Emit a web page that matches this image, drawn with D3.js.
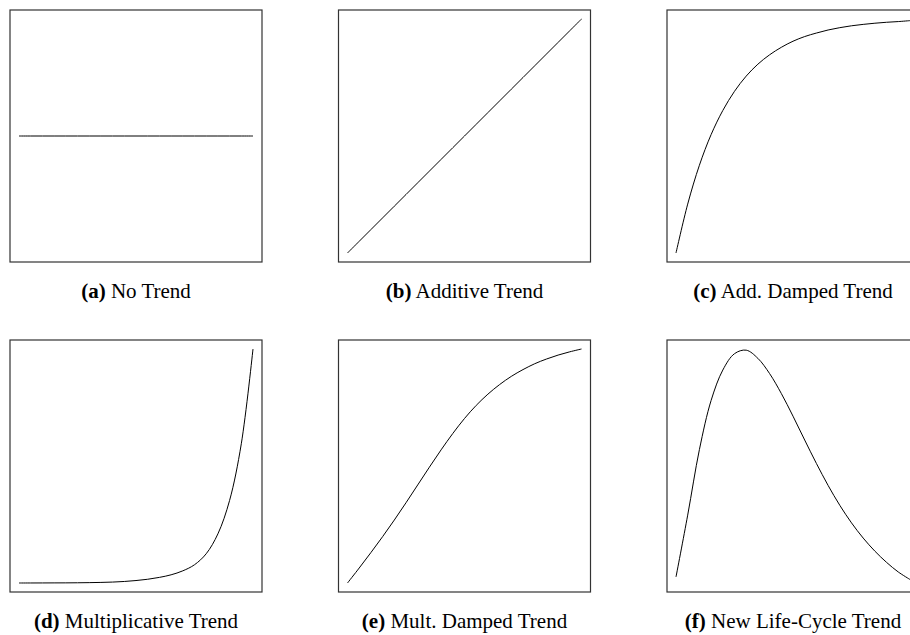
<!DOCTYPE html>
<html>
<head>
<meta charset="utf-8">
<script src="https://cdn.jsdelivr.net/npm/d3@7"></script>
<style>
  html, body { margin: 0; padding: 0; background: #fff; }
  svg { display: block; }
</style>
</head>
<body>
<svg id="chart" width="910" height="635"></svg>
<script>
// Sample positions along each panel's horizontal span (0 = start, 1 = end)
const steps = [0, 0.05, 0.1, 0.15, 0.2, 0.25, 0.3, 0.35, 0.4, 0.45, 0.5,
               0.55, 0.6, 0.65, 0.7, 0.75, 0.8, 0.85, 0.9, 0.95, 1];

// Trend levels (0 = lowest, 1 = highest) at each sample position
const noTrend = [0.5, 0.5, 0.5, 0.5, 0.5, 0.5, 0.5, 0.5, 0.5, 0.5, 0.5,
                 0.5, 0.5, 0.5, 0.5, 0.5, 0.5, 0.5, 0.5, 0.5, 0.5];
const additiveTrend = [0, 0.05, 0.1, 0.15, 0.2, 0.25, 0.3, 0.35, 0.4, 0.45, 0.5,
                       0.55, 0.6, 0.65, 0.7, 0.75, 0.8, 0.85, 0.9, 0.95, 1];
const addDampedTrend = [0, 0.209, 0.375, 0.506, 0.609, 0.691, 0.756, 0.807, 0.847, 0.879, 0.905,
                        0.925, 0.940, 0.953, 0.963, 0.971, 0.977, 0.982, 0.986, 0.989, 0.993];
const multiplicativeTrend = [0, 0.0001, 0.0002, 0.0004, 0.0006, 0.001, 0.0016, 0.0025, 0.004, 0.0065, 0.0105,
                             0.016, 0.024, 0.035, 0.052, 0.078, 0.125, 0.21, 0.353, 0.595, 1];
const multDampedTrend = [0, 0.064, 0.130, 0.198, 0.269, 0.343, 0.419, 0.495, 0.569, 0.639, 0.703,
                         0.759, 0.807, 0.848, 0.883, 0.912, 0.937, 0.957, 0.974, 0.988, 1];
const lifeCycleTrend = [0.026, 0.29, 0.57, 0.78, 0.91, 0.98, 0.995, 0.96, 0.895, 0.81, 0.713,
                        0.611, 0.511, 0.417, 0.332, 0.257, 0.192, 0.136, 0.088, 0.047, 0.015];

// Panel tags and captions
const tags = ["(a)", "(b)", "(c)", "(d)", "(e)", "(f)"];
const captions = ["No Trend", "Additive Trend", "Add. Damped Trend",
                  "Multiplicative Trend", "Mult. Damped Trend", "New Life-Cycle Trend"];
const series = [noTrend, additiveTrend, addDampedTrend,
                multiplicativeTrend, multDampedTrend, lifeCycleTrend];

const svg = d3.select("#chart");

const boxSize = 252;      // side of each square frame
const inset = 9;          // gap between frame and curve extent
const colStep = 328.5;
const rowStep = 330;
const originX = 10, originY = 10;

const x = d3.scaleLinear().domain([0, 1]).range([inset, boxSize - inset]);
const y = d3.scaleLinear().domain([0, 1]).range([boxSize - inset, inset]);

const line = d3.line()
  .x((d, i) => x(steps[i]))
  .y(d => y(d))
  .curve(d3.curveCatmullRom.alpha(0.5));

series.forEach((vals, k) => {
  const col = k % 3, row = Math.floor(k / 3);
  const g = svg.append("g")
    .attr("transform", `translate(${originX + col * colStep},${originY + row * rowStep})`);

  g.append("rect")
    .attr("x", 0).attr("y", 0)
    .attr("width", boxSize).attr("height", boxSize)
    .attr("fill", "none")
    .attr("stroke", "#333")
    .attr("stroke-width", 1.2);

  g.append("path")
    .datum(vals)
    .attr("d", line)
    .attr("fill", "none")
    .attr("stroke", "#000")
    .attr("stroke-width", 1);

  const cap = g.append("text")
    .attr("x", boxSize / 2)
    .attr("y", 287.5)
    .attr("text-anchor", "middle")
    .attr("font-family", "'Liberation Serif', 'Times New Roman', serif")
    .attr("font-size", 21)
    .attr("fill", "#000");
  cap.append("tspan").attr("font-weight", "bold").text(tags[k]);
  cap.append("tspan").text(" " + captions[k]);
});
</script>
</body>
</html>
